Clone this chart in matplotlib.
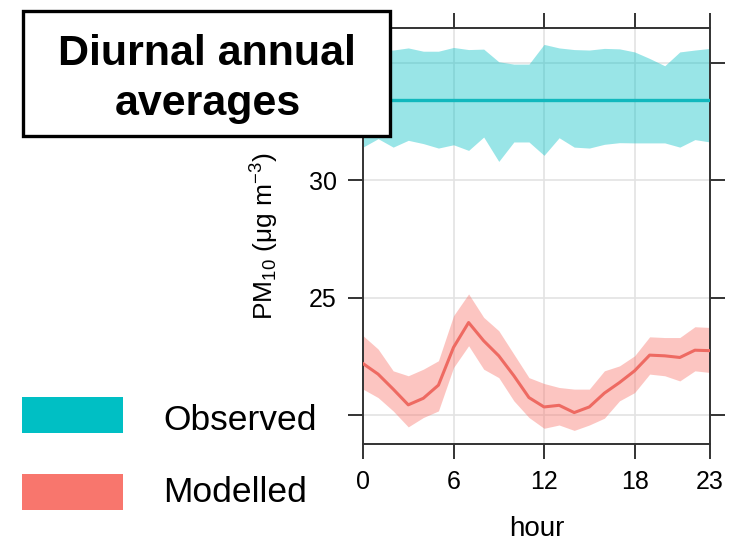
"""Diurnal annual averages of PM10: observed vs modelled, with confidence bands."""

import matplotlib

matplotlib.use("Agg")
import matplotlib.patches as patches
import matplotlib.pyplot as plt
import numpy as np

# data
hours = np.arange(24)

obs_mean = [33.45] * 24
obs_upper = [35.50, 35.55, 35.56, 35.65, 35.51, 35.51, 35.67, 35.58, 35.60, 35.06, 34.96, 34.96,
             35.80, 35.65, 35.58, 35.56, 35.63, 35.61, 35.48, 35.20, 34.89, 35.48, 35.56, 35.63]
obs_lower = [31.42, 31.78, 31.42, 31.71, 31.57, 31.38, 31.52, 31.28, 31.85, 30.81, 31.64, 31.64,
             31.07, 31.82, 31.42, 31.38, 31.54, 31.61, 31.60, 31.60, 31.60, 31.42, 31.74, 31.64]

mod_mean = [22.19, 21.74, 21.10, 20.43, 20.71, 21.27, 22.88, 23.94, 23.16, 22.52, 21.67, 20.74,
            20.34, 20.41, 20.10, 20.34, 20.93, 21.38, 21.88, 22.55, 22.52, 22.45, 22.76, 22.74]
mod_upper = [23.38, 22.81, 21.88, 21.67, 21.95, 22.31, 24.23, 25.16, 24.16, 23.59, 22.59, 21.59,
             21.34, 21.17, 21.10, 21.10, 21.88, 22.09, 22.52, 23.33, 23.30, 23.30, 23.76, 23.73]
mod_lower = [21.10, 20.74, 20.17, 19.49, 19.89, 20.17, 22.02, 22.95, 21.95, 21.59, 20.60, 19.89,
             19.43, 19.57, 19.34, 19.57, 19.86, 20.60, 20.95, 21.74, 21.67, 21.45, 21.88, 21.81]

x_ticks = [0, 6, 12, 18, 23]
y_ticks = [20, 25, 30, 35]
y_ticklabels = ["", "25", "30", ""]  # 20 and 35 are hidden under the legend / title box

OBS_COLOR = "#00BFC4"
MOD_COLOR = "#F8766D"

W, H = 730, 542


def fx(x):
    return x / W


def fy(y):
    return 1 - y / H


plt.rcParams["font.family"] = ["Liberation Sans", "DejaVu Sans"]
plt.rcParams["mathtext.fontset"] = "custom"
plt.rcParams["mathtext.rm"] = "Liberation Sans"
plt.rcParams["mathtext.it"] = "Liberation Sans:italic"

fig = plt.figure(figsize=(7.3, 5.42), dpi=100)
ax = fig.add_axes([fx(363), fy(444), fx(710) - fx(363), fy(28) - fy(444)])

ax.fill_between(hours, obs_lower, obs_upper, color=OBS_COLOR, alpha=0.4, linewidth=0, zorder=2)
ax.plot(hours, obs_mean, color="#12B8BD", linewidth=2.4, zorder=3)
ax.fill_between(hours, mod_lower, mod_upper, color=MOD_COLOR, alpha=0.42, linewidth=0, zorder=2)
ax.plot(hours, mod_mean, color="#EE6A62", linewidth=2.2, zorder=3)

ax.set_xlim(0, 23)
ax.set_ylim(18.76, 36.5)
ax.set_xticks(x_ticks)
ax.set_yticks(y_ticks)
ax.set_yticklabels(y_ticklabels)
ax.grid(True, color="#E3E3E3", linewidth=1.2, zorder=0)
ax.set_axisbelow(True)

for side in ax.spines.values():
    side.set_color("#333333")
    side.set_linewidth(1.4)

ax.tick_params(direction="out", length=11, width=1.4, color="#333333",
               top=True, right=True, labeltop=False, labelright=False,
               labelsize=18, pad=8)

ax.set_xlabel("hour", fontsize=20)
ax.xaxis.set_label_coords(0.5, -0.172)
ax.xaxis.label.set_va("top")
ax.set_ylabel(r"PM$_{10}$ ($\mathrm{\mu}$g m$^{-3}$)", fontsize=19)
ax.yaxis.set_label_coords(-0.235, 0.5)

# title box drawn over the top-left of the plot
fig.patches.append(
    patches.Rectangle((fx(23), fy(136)), fx(390) - fx(23), fy(11) - fy(136),
                      transform=fig.transFigure, facecolor="white",
                      edgecolor="black", linewidth=2.4, zorder=10)
)
fig.text(fx(207), fy(65), "Diurnal annual", ha="center", va="baseline",
         fontsize=31, fontweight="bold", zorder=11)
fig.text(fx(208), fy(115), "averages", ha="center", va="baseline",
         fontsize=31, fontweight="bold", zorder=11)

# legend
legend_items = [("Observed", OBS_COLOR, 397, 430), ("Modelled", MOD_COLOR, 474, 502)]
for label, color, top, baseline in legend_items:
    fig.patches.append(
        patches.Rectangle((fx(22), fy(top + 36)), fx(123) - fx(22), fy(top) - fy(top + 36),
                          transform=fig.transFigure, facecolor=color, edgecolor="none")
    )
    fig.text(fx(163), fy(baseline), label, ha="left", va="baseline", fontsize=25.5)

fig.savefig("out.png", dpi=100)
